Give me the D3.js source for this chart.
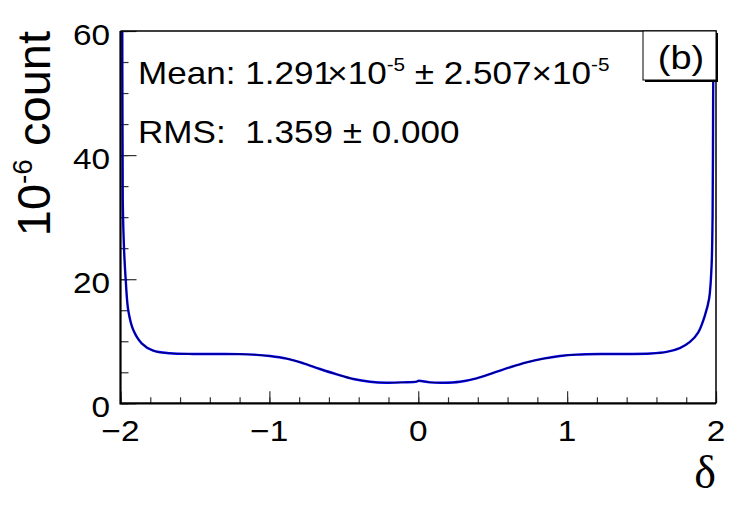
<!DOCTYPE html>
<html>
<head>
<meta charset="utf-8">
<script src="https://cdn.jsdelivr.net/npm/d3@7"></script>
<style>
  body { margin: 0; background: #fff; }
  text { font-family: "Liberation Sans", Arial, sans-serif; fill: #000; white-space: pre; }
</style>
</head>
<body>
<svg id="chart" width="747" height="505"></svg>
<script>
// distribution of delta (units of 10^-6 count)
var deltaVals = [-1.995, -1.988, -1.985, -1.976, -1.965, -1.948, -1.914, -1.858, -1.78, -1.668, -1.511, -1.332,
  -1.2, -1.11, -0.996, -0.884, -0.772, -0.66, -0.548, -0.436, -0.324, -0.212, -0.1, -0.01, 0,
  0.079, 0.168, 0.28, 0.392, 0.504, 0.616, 0.728, 0.84, 0.952, 1.064, 1.24, 1.4, 1.56,
  1.668, 1.757, 1.825, 1.88, 1.926, 1.954, 1.97, 1.977, 1.981, 1.984, 1.992];
var countVals = [95, 60, 33, 24.7, 19.9, 15.0, 11.8, 9.67, 8.48, 8.06, 7.95, 7.95,
  7.93, 7.85, 7.62, 7.2, 6.45, 5.53, 4.67, 3.92, 3.48, 3.32, 3.38, 3.5, 3.62,
  3.38, 3.32, 3.48, 4.03, 4.9, 5.8, 6.6, 7.2, 7.62, 7.85, 7.95, 7.95, 8.02,
  8.28, 8.9, 9.9, 11.4, 14.2, 16.9, 22, 30, 50, 60, 95];

var xMajor = [-2, -1, 0, 1, 2];
var xMajorLabels = ["\u22122", "\u22121", "0", "1", "2"];
var yMajor = [0, 20, 40, 60];
var yMajorLabels = ["0", "20", "40", "60"];

var svg = d3.select("#chart");
var fx0 = 120.5, fx1 = 716, fy0 = 31, fy1 = 403.3;
var sx = 1.15; // the reference is stretched sideways

var x = d3.scaleLinear().domain([-2, 2]).range([fx0, fx1]);
var y = d3.scaleLinear().domain([0, 60]).range([fy1, fy0]);

svg.append("defs").append("clipPath").attr("id", "frame")
  .append("rect").attr("x", fx0).attr("y", fy0)
  .attr("width", fx1 - fx0).attr("height", fy1 - fy0);

// ticks
function tickAxis(axis, tr) {
  var g = svg.append("g").attr("transform", tr).call(axis);
  g.select(".domain").remove();
  g.selectAll("line").attr("stroke", "#333").attr("stroke-width", 1.2);
  return g;
}
tickAxis(d3.axisLeft(y).tickValues(d3.range(0, 61, 5)).tickSizeInner(-8).tickSizeOuter(0).tickFormat(""),
  "translate(" + fx0 + ",0)");
tickAxis(d3.axisLeft(y).tickValues(yMajor).tickSizeInner(-16).tickSizeOuter(0).tickFormat(""),
  "translate(" + fx0 + ",0)");
tickAxis(d3.axisBottom(x).tickValues(d3.range(-2, 2.01, 0.2)).tickSizeInner(-6).tickSizeOuter(0).tickFormat(""),
  "translate(0," + fy1 + ")");
tickAxis(d3.axisBottom(x).tickValues(xMajor).tickSizeInner(-12).tickSizeOuter(0).tickFormat(""),
  "translate(0," + fy1 + ")");

// curve
var line = d3.line()
  .x(function(d, i) { return x(deltaVals[i]); })
  .y(function(d) { return y(d); })
  .curve(d3.curveCatmullRom.alpha(0.5));

svg.append("path")
  .attr("clip-path", "url(#frame)")
  .attr("d", line(countVals))
  .attr("fill", "none")
  .attr("stroke", "#0000ff")
  .attr("stroke-width", 2.4);
svg.append("path")
  .attr("clip-path", "url(#frame)")
  .attr("d", line(countVals))
  .attr("fill", "none")
  .attr("stroke", "#000030")
  .attr("stroke-opacity", 0.75)
  .attr("stroke-width", 1.1);

// frame
svg.append("path")
  .attr("d", "M" + fx0 + "," + fy0 + "H" + fx1 + "V" + fy1)
  .attr("fill", "none").attr("stroke", "#000").attr("stroke-width", 1.5);
svg.append("path")
  .attr("d", "M" + fx0 + "," + fy0 + "V" + fy1 + "H" + fx1)
  .attr("fill", "none").attr("stroke", "#000").attr("stroke-width", 2.2);

function stretched(px, py, anchor, size) {
  return svg.append("text")
    .attr("transform", "translate(" + px + "," + py + ") scale(" + sx + ",1)")
    .attr("text-anchor", anchor)
    .style("font-size", size + "px");
}

// tick labels
yMajor.forEach(function(v, i) {
  stretched(110, y(v) + 14, "end", 29).text(yMajorLabels[i]);
});
xMajor.forEach(function(v, i) {
  stretched(x(v), 441, "middle", 29).text(xMajorLabels[i]);
});

// axis titles
var yt = svg.append("text")
  .attr("transform", "translate(50,31) rotate(-90)")
  .attr("text-anchor", "end")
  .style("font-size", "47px");
yt.append("tspan").text("10");
yt.append("tspan").attr("dy", -18).style("font-size", "28px").text("-6");
yt.append("tspan").attr("dy", 18).text(" count");

svg.append("text")
  .attr("x", 716).attr("y", 488)
  .attr("text-anchor", "end")
  .style("font-family", "'Liberation Serif', 'DejaVu Serif', serif")
  .style("font-size", "46px")
  .text("\u03b4");

// stats text
var m = stretched(138, 84, "start", 30.5);
m.append("tspan").text("Mean: 1.291");
m.append("tspan").attr("dx", -5).text("\u00d710");
m.append("tspan").attr("dy", -13).style("font-size", "18px").text("-5");
m.append("tspan").attr("dy", 13).text(" \u00b1 2.507\u00d710");
m.append("tspan").attr("dy", -13).style("font-size", "18px").text("-5");

stretched(138, 143, "start", 30.5).text("RMS:  1.359 \u00b1 0.000");

// (b) label box with shadow
svg.append("rect").attr("x", 645).attr("y", 33).attr("width", 73).attr("height", 49).attr("fill", "#000");
svg.append("rect").attr("x", 643).attr("y", 31).attr("width", 73).attr("height", 49)
  .attr("fill", "#fff").attr("stroke", "#000").attr("stroke-width", 1);
stretched(681, 69, "middle", 33).text("(b)");
</script>
</body>
</html>
